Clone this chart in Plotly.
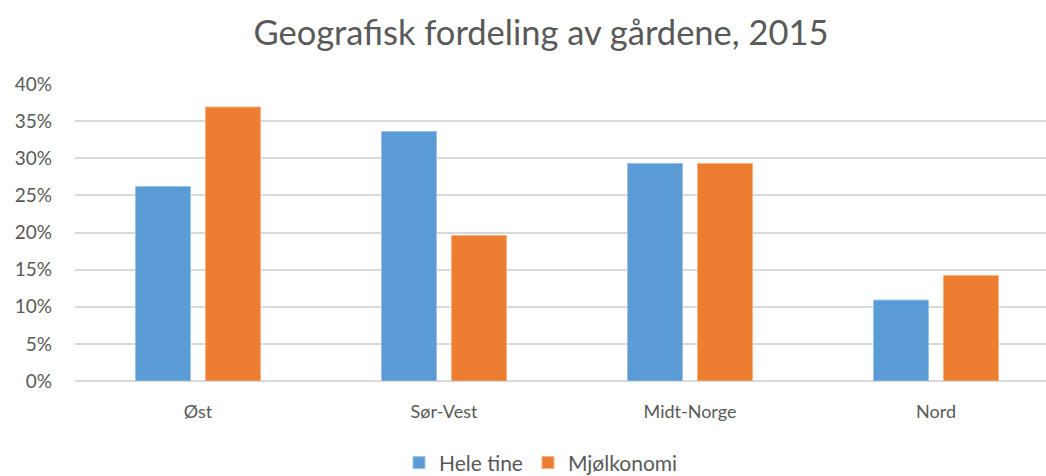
import plotly.graph_objects as go

categories = ["Øst", "Sør-Vest", "Midt-Norge", "Nord"]
hele_tine = [0.262, 0.336, 0.293, 0.109]
mjolkonomi = [0.369, 0.196, 0.293, 0.142]
series_names = ["Hele tine", "Mjølkonomi"]
y_ticks = [0, 0.05, 0.10, 0.15, 0.20, 0.25, 0.30, 0.35, 0.40]
y_tick_labels = ["0%", "5%", "10%", "15%", "20%", "25%", "30%", "35%", "40%"]

FONT = "Lato, 'Open Sans', sans-serif"
GREY = "#595959"
W = 1070

fig = go.Figure()
fig.add_trace(go.Bar(x=categories, y=hele_tine, name=series_names[0],
                     marker=dict(color="#5B9BD5", line=dict(color="#9CC3E6", width=1))))
fig.add_trace(go.Bar(x=categories, y=mjolkonomi, name=series_names[1],
                     marker=dict(color="#ED7D31", line=dict(color="#F4B183", width=1))))

fig.update_layout(
    width=W, height=476,
    margin=dict(l=75, r=0, t=84, b=95, autoexpand=False),
    paper_bgcolor="white", plot_bgcolor="white",
    barmode="group", bargap=0.431, bargroupgap=0.214,
    font=dict(family=FONT, color=GREY, size=18),
    title=dict(text="Geografisk fordeling av gårdene, 2015", x=541 / W, xref="container",
               xanchor="center", y=0.93, yref="container", yanchor="middle",
               font=dict(size=34.5, color=GREY, family=FONT)),
    legend=dict(orientation="h", x=541 / W, xref="container", xanchor="center",
                y=-0.276, yref="paper", yanchor="middle",
                font=dict(size=21, color=GREY), itemwidth=30, traceorder="normal"),
    showlegend=True,
)
fig.update_yaxes(range=[0, 0.40], tickvals=y_ticks, ticktext=y_tick_labels,
                 showgrid=True, gridcolor="#D9D9D9", gridwidth=1.5,
                 zeroline=True, zerolinecolor="#D9D9D9", zerolinewidth=1.5,
                 showline=False, ticks="", ticklabelstandoff=22,
                 tickfont=dict(size=19, color=GREY))
fig.update_xaxes(range=[-0.5, -0.5 + (W - 75) / 246], showgrid=False, showline=False, ticks="",
                 ticklabelstandoff=18, tickfont=dict(size=18, color=GREY))

fig.write_html("out.html", config={"displayModeBar": False},
               post_script=("document.documentElement.style.overflow='hidden';"
                            "document.body.style.margin='0';document.body.style.overflow='hidden';"))
